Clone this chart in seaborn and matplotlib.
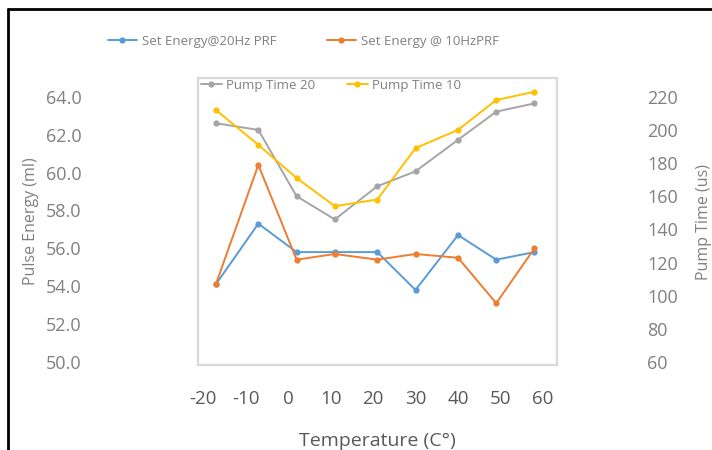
import matplotlib
matplotlib.use("Agg")
import matplotlib.pyplot as plt
from matplotlib.lines import Line2D
import seaborn as sns

sns.set_style("white")
plt.rcParams['font.family'] = ['Open Sans', 'DejaVu Sans']

temperature = [-17, -7, 2, 11, 21, 30, 40, 49, 58]
energy_20hz = [54.1, 57.3, 55.8, 55.8, 55.8, 53.8, 56.7, 55.4, 55.8]
energy_10hz = [54.1, 60.4, 55.4, 55.7, 55.4, 55.7, 55.5, 53.1, 56.0]
pump_time_20 = [204, 200, 160, 146, 166, 175, 194, 211, 216]
pump_time_10 = [212, 191, 171, 154, 158, 189, 200, 218, 223]

x_ticks = [-20, -10, 0, 10, 20, 30, 40, 50, 60]
left_ticks = [50, 52, 54, 56, 58, 60, 62, 64]
right_ticks = [60, 80, 100, 120, 140, 160, 180, 200, 220]

series_names = ["Set Energy@20Hz PRF", "Set Energy @ 10HzPRF", "Pump Time 20", "Pump Time 10"]
colors = ["#5b9bd5", "#ed7d31", "#a5a5a5", "#ffc000"]

fig = plt.figure(figsize=(7.12, 4.5), dpi=100)
ax = fig.add_axes([198/712, 1-365/450, (557-198)/712, (365-78)/450])
ax2 = ax.twinx()

lw, ms = 1.4, 4.5
sns.lineplot(x=temperature, y=energy_20hz, ax=ax, color=colors[0], marker='o', markersize=ms,
             markeredgewidth=0, linewidth=lw, label=series_names[0], legend=False)
sns.lineplot(x=temperature, y=energy_10hz, ax=ax, color=colors[1], marker='o', markersize=ms,
             markeredgewidth=0, linewidth=lw, label=series_names[1], legend=False)
sns.lineplot(x=temperature, y=pump_time_20, ax=ax2, color=colors[2], marker='o', markersize=ms,
             markeredgewidth=0, linewidth=lw, label=series_names[2], legend=False)
sns.lineplot(x=temperature, y=pump_time_10, ax=ax2, color=colors[3], marker='o', markersize=ms,
             markeredgewidth=0, linewidth=lw, label=series_names[3], legend=False)

ax.set_xlim(-21.2, 63.3)
ax.set_ylim(49.84, 64.99)
ax2.set_ylim(58.2, 231.3)

ax.set_xticks(x_ticks)
ax.set_xticklabels([str(v) for v in x_ticks], fontsize=13.5, color="#595959")
ax.set_yticks(left_ticks)
ax.set_yticklabels([f"{v:.1f}" for v in left_ticks], fontsize=13, color="#808080")
ax2.set_yticks(right_ticks)
ax2.set_yticklabels([str(v) for v in right_ticks], fontsize=13, color="#808080")

ax.tick_params(axis='x', length=0, pad=18)
ax.tick_params(axis='y', length=0, pad=84)
ax2.tick_params(axis='y', length=0, pad=65)

ax.set_xlabel("Temperature (C°)", fontsize=14, color="#595959", labelpad=17)
ax.set_ylabel("Pulse Energy (ml)", fontsize=11.5, color="#808080", labelpad=5)
ax2.set_ylabel("Pump Time (us)", fontsize=11.5, color="#808080", labelpad=13)

for a in (ax, ax2):
    for s in a.spines.values():
        s.set_color("#d9d9d9")
        s.set_linewidth(1.5)
    a.grid(False)

h1, l1 = ax.get_legend_handles_labels()
h2, l2 = ax2.get_legend_handles_labels()
leg1 = fig.legend(h1, l1, loc='center left', bbox_to_anchor=(96/712, 1-41/450), ncol=2,
                  frameon=False, fontsize=9.5, labelcolor="#808080", columnspacing=3.8,
                  handlelength=2.2, handletextpad=0.4)
leg2 = fig.legend(h2, l2, loc='center left', bbox_to_anchor=(189/712, 1-85/450), ncol=2,
                  frameon=False, fontsize=9.5, labelcolor="#808080", columnspacing=2.4,
                  handlelength=1.6, handletextpad=0.3)
leg2.set_zorder(5)

# outer frame lines (top and left)
fig.add_artist(Line2D([8/712, 1.0], [1-9/450, 1-9/450], color="black", linewidth=2, transform=fig.transFigure))
fig.add_artist(Line2D([8/712, 8/712], [0, 1-9/450], color="black", linewidth=2, transform=fig.transFigure))

fig.savefig("out.png", dpi=100)
